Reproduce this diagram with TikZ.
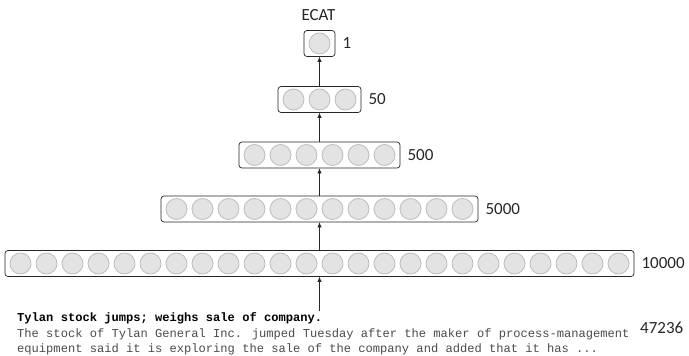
\documentclass[tikz,border=0pt]{standalone}
\usepackage{fontspec}
\setmainfont{Carlito}
\newfontfamily\monof{Liberation Mono}
\usetikzlibrary{arrows.meta,positioning}
\definecolor{unitfill}{HTML}{E3E3E3}
\definecolor{unitline}{HTML}{BDBDBD}
\definecolor{bodytext}{HTML}{4A4A4A}
\tikzset{
  unit/.style={circle, minimum size=21pt, inner sep=0pt, fill=unitfill, draw=unitline, line width=0.8pt},
  layerbox/.style={rectangle, rounded corners=3pt, draw=black!85, line width=0.7pt, minimum height=26pt, inner sep=0pt},
  lab/.style={font=\fontsize{17}{20}\selectfont, inner sep=0pt, text=black!85},
  conn/.style={-{Latex[length=5pt,width=4.5pt]}, line width=0.7pt, black!85},
}
\newcommand\mylayer[4]{%
  \pgfmathsetmacro\bw{(#2-1)*26+31}%
  \node[layerbox, minimum width=\bw pt] (#1) at (319.5,#3) {};
  \foreach \i in {1,...,#2}{\node[unit] (#1-\i) at ({319.5+(\i-(#2+1)/2)*26},#3) {};}
  \node[lab, anchor=west, right=7pt of #1] (#1-lab) {#4};
}
\begin{document}
\begin{tikzpicture}[x=1pt,y=-1pt]
\useasboundingbox (0,0) rectangle (689,356);
\mylayer{bA}{1}{43.5}{1}
\mylayer{bB}{3}{99.5}{50}
\mylayer{bC}{6}{155}{500}
\mylayer{bD}{12}{209}{5000}
\mylayer{bE}{24}{263.5}{10000}
\node[lab] (ecat) at (318.5,15) {ECAT};
\coordinate (src) at (319.5,311);
\draw[conn] (src) -- (bE.south);
\draw[conn] (bE.north) -- (bD.south);
\draw[conn] (bD.north) -- (bC.south);
\draw[conn] (bC.north) -- (bB.south);
\draw[conn] (bB.north) -- (bA.south);
\node[anchor=north west, align=left, inner sep=0pt, text=bodytext,
      font=\monof\fontsize{12.1}{15.6}\selectfont] (doc) at (17,312.5)
  {\textcolor{black}{\textbf{Tylan stock jumps; weighs sale of company.}}\\
   The stock of Tylan General Inc. jumped Tuesday after the maker of process-management\\
   equipment said it is exploring the sale of the company and added that it has ...};
\node[lab, anchor=west] (cnt) at (640,328) {47236};
\end{tikzpicture}
\end{document}
